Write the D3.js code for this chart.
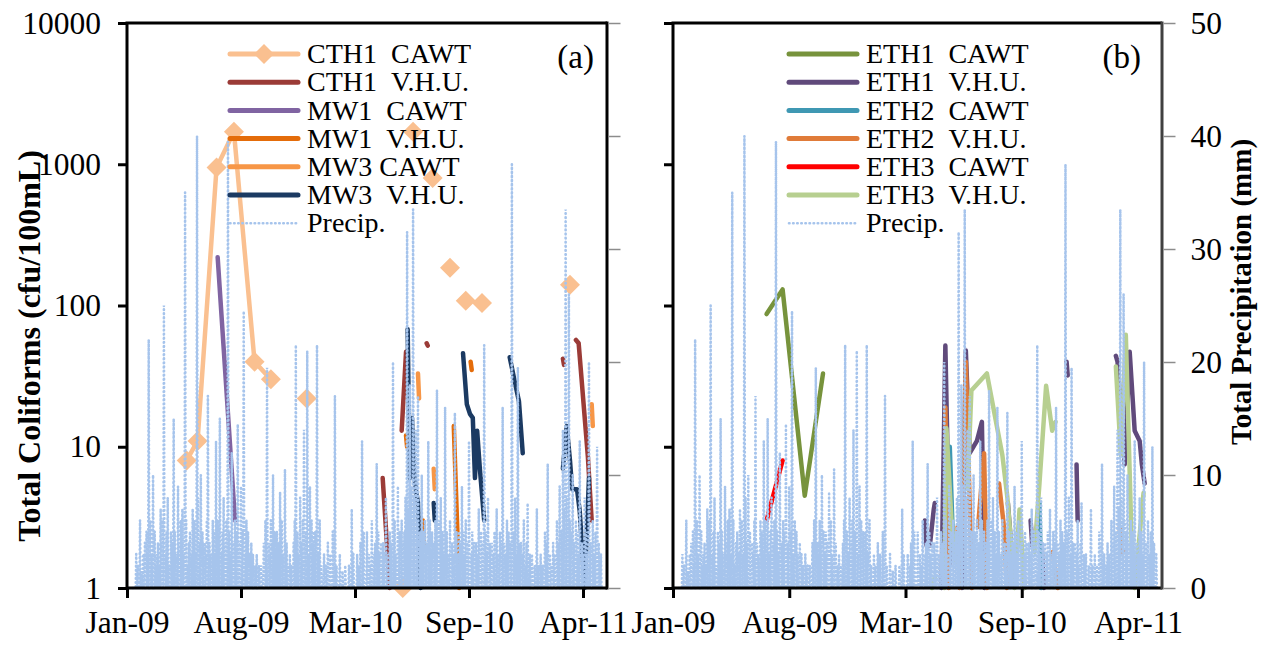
<!DOCTYPE html>
<html lang="en">
<head>
<meta charset="UTF-8">
<title>Total Coliforms and Precipitation</title>
<script src="https://cdn.jsdelivr.net/npm/d3@7"></script>
<style>
    body { margin: 0; background: #fff; }
    svg text { font-family: "Liberation Serif", "Times New Roman", serif; fill: #000; }
    .axis text { font-size: 31.5px; }
    .legend text { font-size: 28px; }
    .title { font-weight: bold; }
    .panel-label { font-size: 33px; }
</style>
</head>
<body>
<svg width="1269" height="645"></svg>
<script>
    var parse = d3.timeParse("%Y-%m-%d");
    var fmt = d3.timeFormat("%Y-%m-%d");

    // axis ticks
    var tickLabels = ["Jan-09", "Aug-09", "Mar-10", "Sep-10", "Apr-11"];
    var tickDates = ["2009-01-06", "2009-08-04", "2010-03-02", "2010-09-28", "2011-04-26"];
    var coliTicks = [1, 10, 100, 1000, 10000];
    var precipTicks = [0, 10, 20, 30, 40, 50];

    // daily precipitation (mm), rainy days only; other days are dry
    var precipStart = "2009-01-09", precipEnd = "2011-06-01";
    var precipMain = [
        ["2009-01-23", 3], ["2009-01-30", 6], ["2009-02-08", 4], ["2009-02-15", 22], ["2009-02-23", 10],
        ["2009-03-04", 4], ["2009-03-09", 7], ["2009-03-15", 25], ["2009-03-22", 8], ["2009-03-28", 5],
        ["2009-04-02", 15], ["2009-04-10", 9], ["2009-04-15", 6], ["2009-04-23", 35], ["2009-04-30", 4],
        ["2009-05-07", 7], ["2009-05-15", 40], ["2009-05-22", 10], ["2009-05-29", 4], ["2009-06-04", 17],
        ["2009-06-13", 6], ["2009-06-19", 13], ["2009-06-26", 15], ["2009-07-03", 8], ["2009-07-11", 39.5],
        ["2009-07-18", 12], ["2009-07-24", 6], ["2009-07-29", 14.5], ["2009-08-04", 9], ["2009-08-09", 24.5],
        ["2009-08-17", 5], ["2009-08-26", 3], ["2009-09-06", 2], ["2009-09-15", 4], ["2009-09-21", 19.5],
        ["2009-09-28", 6], ["2009-10-02", 10], ["2009-10-09", 5], ["2009-10-15", 8.5], ["2009-10-24", 10.5],
        ["2009-11-02", 3], ["2009-11-13", 21.5], ["2009-11-21", 8], ["2009-11-28", 14], ["2009-12-04", 21],
        ["2009-12-09", 9], ["2009-12-16", 5], ["2009-12-22", 21.5], ["2009-12-27", 6], ["2010-01-04", 3],
        ["2010-01-11", 4], ["2010-01-24", 17], ["2010-02-02", 3], ["2010-02-12", 2], ["2010-02-24", 7],
        ["2010-03-06", 3], ["2010-03-15", 13], ["2010-03-24", 5], ["2010-04-02", 6], ["2010-04-11", 11],
        ["2010-04-19", 4], ["2010-04-28", 8], ["2010-05-05", 5], ["2010-05-11", 20], ["2010-05-20", 9],
        ["2010-05-27", 6], ["2010-06-06", 31.5], ["2010-06-11", 18], ["2010-06-17", 33.5], ["2010-06-22", 14],
        ["2010-06-26", 17], ["2010-07-03", 10], ["2010-07-09", 6], ["2010-07-15", 13], ["2010-07-22", 5],
        ["2010-07-31", 17.5], ["2010-08-07", 8], ["2010-08-15", 16], ["2010-08-24", 6], ["2010-09-02", 15.5],
        ["2010-09-10", 5], ["2010-09-15", 9], ["2010-09-22", 6], ["2010-09-28", 13], ["2010-10-07", 4],
        ["2010-10-16", 7], ["2010-10-26", 21.5], ["2010-11-02", 8], ["2010-11-09", 4], ["2010-11-18", 7],
        ["2010-11-24", 5], ["2010-11-29", 16], ["2010-12-07", 6], ["2010-12-16", 37.5], ["2010-12-22", 8],
        ["2010-12-27", 19.5], ["2011-01-02", 4], ["2011-01-07", 6], ["2011-01-14", 7.5], ["2011-01-22", 3],
        ["2011-01-31", 7], ["2011-02-07", 3], ["2011-02-15", 5], ["2011-02-20", 11], ["2011-03-02", 4],
        ["2011-03-09", 6], ["2011-03-14", 9], ["2011-03-20", 14], ["2011-03-25", 33.5], ["2011-03-31", 26],
        ["2011-04-07", 10], ["2011-04-13", 6], ["2011-04-20", 13], ["2011-04-29", 8], ["2011-05-07", 20],
        ["2011-05-14", 6], ["2011-05-22", 12.5], ["2011-05-29", 3]
    ];
    // light-rain days that fill the low part of the record
    var precipLight = [
        ["2009-01-26", 2], ["2009-02-02", 1.5], ["2009-02-05", 3], ["2009-02-11", 5], ["2009-02-13", 2],
        ["2009-02-18", 6], ["2009-02-20", 3], ["2009-02-26", 5], ["2009-02-28", 2], ["2009-03-02", 3],
        ["2009-03-06", 2], ["2009-03-11", 4], ["2009-03-13", 6], ["2009-03-18", 3], ["2009-03-20", 5],
        ["2009-03-25", 2], ["2009-03-30", 4], ["2009-04-04", 5], ["2009-04-07", 3], ["2009-04-12", 4],
        ["2009-04-18", 7], ["2009-04-20", 3], ["2009-04-25", 6], ["2009-04-27", 2], ["2009-05-02", 5],
        ["2009-05-05", 3], ["2009-05-10", 6], ["2009-05-12", 3], ["2009-05-17", 8], ["2009-05-19", 4],
        ["2009-05-25", 5], ["2009-05-31", 3], ["2009-06-02", 6], ["2009-06-07", 4], ["2009-06-09", 3],
        ["2009-06-15", 5], ["2009-06-17", 3], ["2009-06-22", 6], ["2009-06-24", 4], ["2009-06-29", 3],
        ["2009-07-01", 5], ["2009-07-06", 4], ["2009-07-08", 6], ["2009-07-13", 5], ["2009-07-15", 3],
        ["2009-07-21", 4], ["2009-07-26", 5], ["2009-08-01", 4], ["2009-08-07", 5], ["2009-08-12", 3],
        ["2009-08-14", 6], ["2009-08-20", 3], ["2009-08-23", 4], ["2009-08-29", 2], ["2009-09-02", 3],
        ["2009-09-10", 2], ["2009-09-18", 6], ["2009-09-24", 4], ["2009-09-26", 3], ["2009-09-30", 4],
        ["2009-10-05", 5], ["2009-10-07", 3], ["2009-10-12", 4], ["2009-10-18", 6], ["2009-10-20", 3],
        ["2009-10-27", 4], ["2009-10-30", 2], ["2009-11-05", 2], ["2009-11-09", 4], ["2009-11-11", 6],
        ["2009-11-16", 5], ["2009-11-18", 3], ["2009-11-24", 4], ["2009-11-26", 6], ["2009-12-01", 5],
        ["2009-12-06", 3], ["2009-12-12", 6], ["2009-12-14", 4], ["2009-12-19", 5], ["2009-12-24", 3],
        ["2009-12-30", 2], ["2010-01-07", 2], ["2010-01-15", 3], ["2010-01-20", 5], ["2010-01-27", 2],
        ["2010-02-07", 1.5], ["2010-02-19", 2], ["2010-02-27", 3], ["2010-03-10", 2], ["2010-03-12", 4],
        ["2010-03-18", 5], ["2010-03-28", 3], ["2010-03-31", 2], ["2010-04-06", 3], ["2010-04-08", 4],
        ["2010-04-14", 5], ["2010-04-16", 3], ["2010-04-23", 4], ["2010-04-25", 3], ["2010-05-01", 3],
        ["2010-05-08", 4], ["2010-05-14", 6], ["2010-05-16", 3], ["2010-05-23", 5], ["2010-05-30", 4],
        ["2010-06-01", 5], ["2010-06-03", 8], ["2010-06-08", 7], ["2010-06-13", 9], ["2010-06-15", 6],
        ["2010-06-19", 8], ["2010-06-24", 6], ["2010-06-29", 5], ["2010-07-01", 4], ["2010-07-06", 5],
        ["2010-07-12", 4], ["2010-07-18", 6], ["2010-07-20", 3], ["2010-07-25", 4], ["2010-07-28", 6],
        ["2010-08-02", 4], ["2010-08-04", 6], ["2010-08-10", 5], ["2010-08-12", 3], ["2010-08-18", 5],
        ["2010-08-21", 3], ["2010-08-28", 4], ["2010-08-30", 3], ["2010-09-05", 5], ["2010-09-07", 3],
        ["2010-09-12", 4], ["2010-09-18", 5], ["2010-09-20", 3], ["2010-09-25", 4], ["2010-10-02", 3],
        ["2010-10-04", 5], ["2010-10-11", 4], ["2010-10-13", 3], ["2010-10-20", 5], ["2010-10-23", 4],
        ["2010-10-29", 5], ["2010-10-31", 3], ["2010-11-05", 4], ["2010-11-12", 3], ["2010-11-14", 5],
        ["2010-11-21", 3], ["2010-11-27", 4], ["2010-12-02", 4], ["2010-12-04", 3], ["2010-12-10", 5],
        ["2010-12-13", 4], ["2010-12-19", 5], ["2010-12-25", 3], ["2010-12-30", 4], ["2011-01-05", 3],
        ["2011-01-10", 2], ["2011-01-12", 4], ["2011-01-18", 3], ["2011-01-27", 2], ["2011-02-03", 2],
        ["2011-02-11", 2], ["2011-02-18", 4], ["2011-02-24", 3], ["2011-02-27", 2], ["2011-03-05", 3],
        ["2011-03-12", 4], ["2011-03-17", 5], ["2011-03-22", 7], ["2011-03-27", 8], ["2011-03-29", 6],
        ["2011-04-02", 6], ["2011-04-04", 5], ["2011-04-10", 4], ["2011-04-16", 5], ["2011-04-18", 3],
        ["2011-04-24", 4], ["2011-04-26", 3], ["2011-05-02", 5], ["2011-05-04", 3], ["2011-05-10", 4],
        ["2011-05-17", 3], ["2011-05-19", 5], ["2011-05-25", 4]
    ];

    // total coliforms (cfu/100mL); null = gap in the series
    var cth1Cawt = [
        ["2009-04-26", 8], ["2009-05-16", 11], ["2009-06-20", 950], ["2009-07-22", 1700], ["2009-08-29", 40],
        ["2009-09-28", 30], null, ["2009-12-03", 22], null, ["2010-05-29", 1], null, ["2010-06-17", 1700], null,
        ["2010-07-23", 800], null, ["2010-08-24", 185], null, ["2010-09-22", 108], null, ["2010-10-22", 104], null,
        ["2011-04-02", 140]
    ];
    var cth1Vhu = [
        ["2010-04-22", 6], ["2010-05-05", 1], null,
        ["2010-05-27", 13], ["2010-06-04", 47], null,
        ["2010-07-12", 54], ["2010-07-14", 52], null,
        ["2011-03-20", 42], ["2011-03-22", 38], null,
        ["2011-04-13", 57], ["2011-04-18", 54], ["2011-05-05", 8.5], ["2011-05-12", 3]
    ];
    var mw1Cawt = [["2009-06-22", 220], ["2009-07-24", 3]];
    var mw1Vhu = [
        ["2010-06-04", 12], ["2010-06-06", 10], null,
        ["2010-07-05", 3], ["2010-07-07", 2], null,
        ["2010-08-31", 14], ["2010-09-10", 1], null,
        ["2010-10-01", 40], ["2010-10-03", 35]
    ];
    var mw3Cawt = [
        ["2010-06-26", 33], ["2010-06-28", 22], null,
        ["2010-07-25", 7], ["2010-07-27", 5], null,
        ["2011-05-12", 20], ["2011-05-14", 14]
    ];
    var mw3Vhu = [
        ["2010-06-07", 68], ["2010-06-09", 20], ["2010-06-11", 6], ["2010-06-15", 16], ["2010-06-18", 7],
        ["2010-06-22", 5], ["2010-06-26", 4], ["2010-07-01", 1], null,
        ["2010-07-25", 4], ["2010-07-27", 3], null,
        ["2010-09-17", 46], ["2010-09-24", 20], ["2010-09-30", 17], ["2010-10-05", 16], ["2010-10-09", 6],
        ["2010-10-13", 13], ["2010-10-18", 7], ["2010-10-26", 3], null,
        ["2010-12-12", 43], ["2010-12-22", 28], ["2010-12-29", 21], ["2011-01-05", 9], null,
        ["2011-03-20", 7], ["2011-03-27", 14], ["2011-04-02", 8], ["2011-04-06", 5], ["2011-04-15", 5],
        ["2011-04-20", 3.5], ["2011-04-29", 1], ["2011-05-07", 6]
    ];
    var eth1Cawt = [["2009-06-24", 87], ["2009-07-23", 130], ["2009-09-01", 4.5], ["2009-10-04", 33]];
    var eth1Vhu = [
        ["2010-04-06", 3], ["2010-04-09", 2], ["2010-04-15", 2], ["2010-04-22", 3.6], ["2010-04-24", 4], null,
        ["2010-05-06", 1], ["2010-05-13", 52], ["2010-05-21", 1.5], null,
        ["2010-06-12", 1], ["2010-06-19", 48], ["2010-06-26", 9], ["2010-07-09", 11], ["2010-07-18", 15], ["2010-07-23", 1], null,
        ["2010-09-03", 4], ["2010-09-09", 2], null,
        ["2010-09-30", 1.5], ["2010-10-03", 1], null,
        ["2010-10-14", 3], ["2010-10-17", 2], null,
        ["2010-11-03", 2], ["2010-11-07", 1], null,
        ["2010-12-18", 40], ["2010-12-20", 32], null,
        ["2011-01-05", 7.5], ["2011-01-07", 3], null,
        ["2011-03-17", 44], ["2011-03-20", 40], ["2011-04-02", 7.5], ["2011-04-11", 47], ["2011-04-20", 13],
        ["2011-04-29", 11], ["2011-05-03", 7.5], ["2011-05-08", 5.5]
    ];
    var eth2Cawt = [["2010-05-21", 10], ["2010-05-27", 2], null, ["2010-10-30", 4], ["2010-11-02", 1]];
    var eth2Vhu = [
        ["2010-05-13", 19], ["2010-05-19", 1], null,
        ["2010-06-04", 2.7], ["2010-06-08", 1], ["2010-06-17", 16], ["2010-06-19", 40], ["2010-06-30", 1], null,
        ["2010-07-11", 2.7], ["2010-07-22", 9], ["2010-07-27", 1], null,
        ["2010-08-18", 5.5], ["2010-08-27", 2.7], ["2010-09-01", 1], null,
        ["2010-11-23", 1.8], ["2010-12-02", 1], null,
        ["2011-03-24", 2.7], ["2011-03-26", 1.8], ["2011-04-02", 1.8]
    ];
    var eth3Cawt = [["2009-06-24", 3], ["2009-07-23", 8]];
    var eth3Vhu = [
        ["2010-04-19", 1], ["2010-04-24", 1.2], null,
        ["2010-05-11", 1], ["2010-05-15", 13.5], ["2010-05-24", 3], ["2010-05-31", 1.5], null,
        ["2010-06-22", 5], ["2010-06-29", 25], ["2010-07-27", 33], ["2010-08-24", 8.7], ["2010-09-02", 4.4],
        ["2010-09-15", 1], ["2010-09-24", 3.6], ["2010-10-03", 1], null,
        ["2010-10-21", 1.8], ["2010-10-30", 5.5], ["2010-11-11", 27], ["2010-11-22", 13], ["2010-11-28", 15], null,
        ["2011-03-17", 37], ["2011-03-26", 8.7], ["2011-04-04", 62], ["2011-04-15", 1.8], ["2011-04-20", 1],
        ["2011-05-06", 4.7]
    ];

    var namesA = ["CTH1\u00a0\u00a0CAWT", "CTH1\u00a0\u00a0V.H.U.", "MW1\u00a0\u00a0CAWT", "MW1\u00a0\u00a0V.H.U.", "MW3 CAWT", "MW3\u00a0\u00a0V.H.U.", "Precip."];
    var namesB = ["ETH1\u00a0\u00a0CAWT", "ETH1\u00a0\u00a0V.H.U.", "ETH2\u00a0\u00a0CAWT", "ETH2\u00a0\u00a0V.H.U.", "ETH3\u00a0\u00a0CAWT", "ETH3\u00a0\u00a0V.H.U.", "Precip."];

    var precipColor = "#a6c4ec";

    var svg = d3.select("svg");
    var yTop = 23, yBottom = 588;

    var y = d3.scaleLog().domain([1, 10000]).range([yBottom, yTop]);
    var yP = d3.scaleLinear().domain([0, 50]).range([yBottom, yTop]);

    var rain = new Map();
    precipMain.concat(precipLight).forEach(function(d) {
        rain.set(d[0], Math.max(rain.get(d[0]) || 0, d[1]));
    });
    var precip = d3.timeDay.range(parse(precipStart), parse(precipEnd)).map(function(d) {
        return [d, rain.get(fmt(d)) || 0];
    });

    var panels = [
        {
            left: 127, lastTick: 583, right: 607, labels: true, tag: "(a)", tagX: 594,
            legendX: 230, names: namesA,
            series: [
                {data: cth1Cawt, color: "#fac090", marker: true},
                {data: cth1Vhu, color: "#9b3b37"},
                {data: mw1Cawt, color: "#8064a2"},
                {data: mw1Vhu, color: "#e46c0a"},
                {data: mw3Cawt, color: "#f79646"},
                {data: mw3Vhu, color: "#1b3a62"}
            ]
        },
        {
            left: 673, lastTick: 1138, right: 1162, labels: false, tag: "(b)", tagX: 1141,
            legendX: 789, names: namesB,
            series: [
                {data: eth1Cawt, color: "#77933c"},
                {data: eth1Vhu, color: "#604a7b"},
                {data: eth2Cawt, color: "#3f98b3"},
                {data: eth2Vhu, color: "#e07b39"},
                {data: eth3Cawt, color: "#ff0000"},
                {data: eth3Vhu, color: "#b7cf90"}
            ]
        }
    ];

    var diamond = d3.symbol().type(d3.symbolSquare).size(200);

    panels.forEach(function(p) {
        var x = d3.scaleTime()
            .domain([parse(tickDates[0]), parse(tickDates[tickDates.length - 1])])
            .range([p.left, p.lastTick]);

        var g = svg.append("g");

        // coliform series
        p.series.forEach(function(s) {
            var line = d3.line()
                .defined(function(d) { return d; })
                .x(function(d) { return x(parse(d[0])); })
                .y(function(d) { return y(d[1]); });
            g.append("path")
                .attr("d", line(s.data))
                .attr("fill", "none")
                .attr("stroke", s.color)
                .attr("stroke-width", 4.5)
                .attr("stroke-linejoin", "round")
                .attr("stroke-linecap", "round");
            if (s.marker) {
                g.selectAll(null)
                    .data(s.data.filter(function(d) { return d; }))
                    .enter()
                    .append("path")
                    .attr("d", diamond)
                    .attr("fill", s.color)
                    .attr("transform", function(d) {
                        return "translate(" + x(parse(d[0])) + "," + y(d[1]) + ") rotate(45)";
                    });
            }
        });

        // precipitation on secondary axis
        var pLine = d3.line()
            .x(function(d) { return x(d[0]); })
            .y(function(d) { return yP(d[1]); });
        g.append("path")
            .attr("d", pLine(precip))
            .attr("fill", "none")
            .attr("stroke", precipColor)
            .attr("stroke-width", 2.6)
            .attr("stroke-dasharray", "0.5 3.6")
            .attr("stroke-linecap", "round");

        // frame
        g.append("path")
            .attr("d", "M" + p.right + "," + yTop + "H" + p.left + "V" + yBottom + "H" + p.right)
            .attr("fill", "none")
            .attr("stroke", "#000")
            .attr("stroke-width", 3);
        g.append("line")
            .attr("x1", p.right).attr("x2", p.right)
            .attr("y1", yTop - 1.5).attr("y2", yBottom + 1.5)
            .attr("stroke", p.labels ? "#000" : "#404040")
            .attr("stroke-width", 3);

        // x axis
        var xAxis = g.append("g")
            .attr("class", "axis")
            .attr("transform", "translate(0," + yBottom + ")")
            .call(d3.axisBottom(x)
                .tickValues(tickDates.map(parse))
                .tickFormat(function(d, i) { return tickLabels[i]; })
                .tickSize(10)
                .tickPadding(13));

        // left log axis
        var yAxis = g.append("g")
            .attr("class", "axis")
            .attr("transform", "translate(" + p.left + ",0)")
            .call(d3.axisLeft(y)
                .tickValues(coliTicks)
                .tickFormat(p.labels ? d3.format("d") : function() { return ""; })
                .tickSize(9)
                .tickPadding(17));

        // right precipitation axis
        var pAxis = g.append("g")
            .attr("class", "axis")
            .attr("transform", "translate(" + (p.right + 1.5) + ",0)")
            .call(d3.axisRight(yP)
                .tickValues(precipTicks)
                .tickFormat(p.labels ? function() { return ""; } : d3.format("d"))
                .tickSize(12)
                .tickPadding(15));

        [xAxis, yAxis].forEach(function(a) {
            a.select(".domain").remove();
            a.selectAll(".tick line").attr("stroke", "#000").attr("stroke-width", 3);
        });
        pAxis.select(".domain").remove();
        pAxis.selectAll(".tick line").attr("stroke", "#8c8c8c").attr("stroke-width", 1.5);
        svg.selectAll(".axis text").attr("font-family", null).attr("font-size", null);

        // panel tag
        g.append("text")
            .attr("class", "panel-label")
            .attr("x", p.tagX)
            .attr("y", 56)
            .attr("dy", "0.35em")
            .attr("text-anchor", "end")
            .text(p.tag);

        // legend
        var lg = g.append("g").attr("class", "legend");
        p.names.forEach(function(name, i) {
            var ly = 54 + i * 28.2;
            var s = p.series[i];
            var ln = lg.append("line")
                .attr("x1", p.legendX).attr("x2", p.legendX + 68)
                .attr("y1", ly).attr("y2", ly);
            if (s) {
                ln.attr("stroke", s.color).attr("stroke-width", 5).attr("stroke-linecap", "round");
                if (s.marker) {
                    lg.append("path")
                        .attr("d", diamond)
                        .attr("fill", s.color)
                        .attr("transform", "translate(" + (p.legendX + 34) + "," + ly + ") rotate(45)");
                }
            } else {
                ln.attr("stroke", precipColor).attr("stroke-width", 2.6)
                    .attr("stroke-dasharray", "0.5 3.6").attr("stroke-linecap", "round");
            }
            lg.append("text")
                .attr("x", p.legendX + 77)
                .attr("y", ly)
                .attr("dy", "0.33em")
                .text(name);
        });
    });

    // axis titles
    svg.append("text")
        .attr("class", "title")
        .attr("font-size", 32)
        .attr("transform", "translate(40,346) rotate(-90)")
        .attr("text-anchor", "middle")
        .text("Total Coliforms (cfu/100mL)");
    svg.append("text")
        .attr("class", "title")
        .attr("font-size", 29)
        .attr("transform", "translate(1251,292) rotate(-90)")
        .attr("text-anchor", "middle")
        .text("Total Precipitation (mm)");
</script>
</body>
</html>
